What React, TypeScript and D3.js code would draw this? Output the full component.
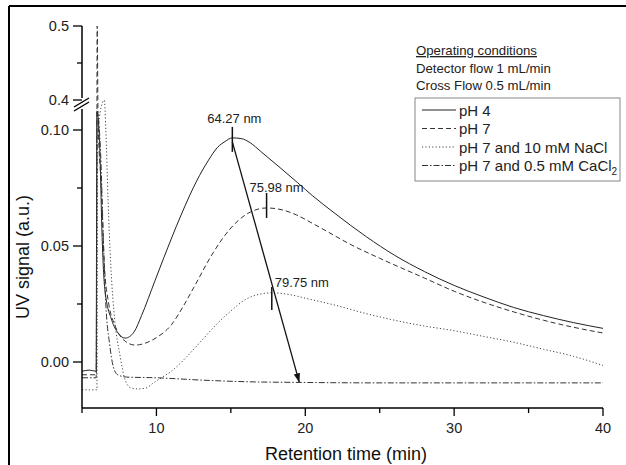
import React from "react";
import * as d3 from "d3";

// ---------- data ----------
const tPH4 = [5, 5.5, 5.95, 6.0, 6.2, 6.34, 6.54, 7.0, 7.42, 7.9, 8.5, 9.0, 9.9, 10.5, 11.6, 12.25, 12.7, 13.5, 14.1, 14.6, 15.1, 15.7, 16.3, 17.0, 18.3, 19.5, 20.5, 22, 24.1, 26, 28, 30, 32, 34, 36, 38, 40];
const vPH4 = [-0.004, -0.0035, -0.004, 0.108, 0.091, 0.056, 0.031, 0.018, 0.0125, 0.0103, 0.013, 0.02, 0.035, 0.045, 0.0625, 0.072, 0.078, 0.087, 0.0925, 0.095, 0.0966, 0.0963, 0.0945, 0.0908, 0.0838, 0.0772, 0.0716, 0.064, 0.054, 0.046, 0.039, 0.033, 0.028, 0.0235, 0.02, 0.017, 0.0145];

const tPH7 = [5, 5.5, 5.97, 6.02, 6.08, 6.3, 6.5, 6.8, 7.2, 7.8, 8.56, 9.2, 10, 11, 11.8, 12.5, 13.8, 14.9, 16, 17.4, 18.5, 19.4, 20.5, 21.6, 23, 25, 28, 30, 32, 34, 36, 38, 40];
const vPH7 = [-0.0055, -0.0055, -0.0055, 0.5, 0.105, 0.075, 0.042, 0.025, 0.016, 0.0095, 0.0073, 0.008, 0.0105, 0.016, 0.024, 0.032, 0.047, 0.057, 0.0635, 0.0664, 0.0655, 0.0634, 0.0597, 0.0558, 0.0508, 0.0447, 0.0362, 0.0305, 0.0257, 0.0216, 0.018, 0.015, 0.0125];

const tNaCl = [5, 5.5, 6.0, 6.06, 6.5, 6.6, 6.75, 6.94, 7.2, 7.55, 7.9, 8.3, 8.8, 9.3, 9.8, 10.4, 11, 12, 13, 14, 15, 16, 17, 17.75, 19, 20, 22, 24, 26, 28, 30, 32, 34, 36, 38, 40];
const vNaCl = [-0.012, -0.012, -0.012, 0.1, 0.39, 0.1, 0.07, 0.041, 0.018, 0.003, -0.0078, -0.0112, -0.0116, -0.0112, -0.009, -0.0065, -0.004, 0.002, 0.009, 0.016, 0.022, 0.027, 0.0293, 0.0298, 0.029, 0.0275, 0.0245, 0.021, 0.018, 0.0155, 0.0135, 0.011, 0.0085, 0.0055, 0.0025, -0.0015];

const tCaCl2 = [5, 5.5, 5.95, 6.02, 6.25, 6.45, 6.6, 6.85, 7.1, 7.4, 8, 10, 13, 16, 19.6, 25, 30, 35, 40];
const vCaCl2 = [-0.0068, -0.0068, -0.0068, 0.108, 0.09, 0.05, 0.025, 0.008, -0.002, -0.0055, -0.0065, -0.0068, -0.0078, -0.0085, -0.0088, -0.009, -0.009, -0.009, -0.009];

const seriesNames = ["pH 4", "pH 7", "pH 7 and 10 mM NaCl", "pH 7 and 0.5 mM CaCl"];
const seriesSub = ["", "", "", "2"];

const xTicks = [10, 20, 30, 40];
const xMinorTicks = [5, 15, 25, 35];
const yLowTicks = [0.0, 0.05, 0.1];
const yLowTickLabels = ["0.00", "0.05", "0.10"];
const yLowMinor = [0.025, 0.075];
const yHighTicks = [0.4, 0.5];
const yHighTickLabels = ["0.4", "0.5"];
const yHighMinor = [0.45];

const peakLabels = ["64.27 nm", "75.98 nm", "79.75 nm"];
const peakTimes = [15.1, 17.4, 17.75];
const peakValues = [0.0966, 0.0664, 0.0297];
const arrowEnd = { t: 19.6, v: -0.0088 };

const conditionLines = ["Operating conditions", "Detector flow 1 mL/min", "Cross Flow 0.5 mL/min"];

// ---------- layout ----------
const W = 626;
const H = 465;
const FONT = "Arial, 'Liberation Sans', sans-serif";
const labelOffsets = [[2, -20], [10, -21], [30, -11]];
const markerExt = [[-11, 14], [-15, 10], [-6, 17]];
const dashes = ["none", "5,3", "1.2,2.2", "6,2,1.5,2"];
const colors = ["#222", "#333", "#444", "#333"];

export default function App() {
  const x = d3.scaleLinear().domain([5, 40]).range([82, 603]);
  const y = d3
    .scaleLinear()
    .domain([-0.02, 0.11, 0.4, 0.5])
    .range([408.4, 106.8, 100, 26]);

  const line = d3
    .line<[number, number]>()
    .x((d) => x(d[0]))
    .y((d) => y(d[1]))
    .curve(d3.curveMonotoneX);

  const series = [
    [tPH4, vPH4],
    [tPH7, vPH7],
    [tNaCl, vNaCl],
    [tCaCl2, vCaCl2],
  ].map(([ts, vs]) => ts.map((t, i) => [t, vs[i]] as [number, number]));

  const axisY0 = 408;
  const axisX0 = 82;

  const legX = 415;
  const legY = 98;
  const legRow = 18.5;

  return (
    <svg
      width={W}
      height={H}
      style={{ position: "absolute", left: 0, top: 0, background: "#fff" }}
      fontFamily={FONT}
    >
      <rect x={0} y={0} width={W} height={H} fill="#fff" />
      {/* frame */}
      <line x1={9} y1={6} x2={W} y2={6} stroke="#000" strokeWidth={2} />
      <line x1={9} y1={6} x2={9} y2={H} stroke="#000" strokeWidth={2} />

      <defs>
        <clipPath id="plotclip">
          <rect x={axisX0} y={20} width={603 - axisX0 + 2} height={axisY0 - 20} />
        </clipPath>
        <marker id="ah" viewBox="0 0 10 10" refX={10} refY={5} markerWidth={7} markerHeight={7} orient="auto">
          <path d="M0,1.5 L10,5 L0,8.5 Z" fill="#111" />
        </marker>
      </defs>

      {/* curves */}
      <g clipPath="url(#plotclip)">
        {series.map((s, i) => (
          <path
            key={i}
            d={line(s) || ""}
            fill="none"
            stroke={colors[i]}
            strokeWidth={1}
            strokeDasharray={dashes[i]}
          />
        ))}
      </g>

      {/* x axis */}
      <line x1={axisX0} y1={axisY0} x2={x(40)} y2={axisY0} stroke="#000" strokeWidth={1.5} />
      {xTicks.map((t) => (
        <g key={"xt" + t}>
          <line x1={x(t)} y1={axisY0} x2={x(t)} y2={axisY0 + 8} stroke="#000" strokeWidth={1.3} />
          <text x={x(t)} y={axisY0 + 25} textAnchor="middle" fontSize={14.5} fill="#222">
            {t}
          </text>
        </g>
      ))}
      {xMinorTicks.map((t) => (
        <line key={"xm" + t} x1={x(t)} y1={axisY0} x2={x(t)} y2={axisY0 + 5} stroke="#000" strokeWidth={1.3} />
      ))}
      <text x={346} y={460} textAnchor="middle" fontSize={18} fill="#111">
        Retention time (min)
      </text>

      {/* y axis lower segment */}
      <line x1={axisX0} y1={axisY0} x2={axisX0} y2={109} stroke="#000" strokeWidth={1.5} />
      {yLowTicks.map((v, i) => (
        <g key={"yl" + v}>
          <line x1={axisX0 - 9} y1={y(v)} x2={axisX0} y2={y(v)} stroke="#000" strokeWidth={1.3} />
          <text x={axisX0 - 13} y={y(v) + 5} textAnchor="end" fontSize={14.5} fill="#222">
            {yLowTickLabels[i]}
          </text>
        </g>
      ))}
      {yLowMinor.map((v) => (
        <line key={"ylm" + v} x1={axisX0 - 5} y1={y(v)} x2={axisX0} y2={y(v)} stroke="#000" strokeWidth={1.3} />
      ))}
      {/* y axis upper segment */}
      <line x1={axisX0} y1={y(0.5)} x2={axisX0} y2={98} stroke="#000" strokeWidth={1.5} />
      {yHighTicks.map((v, i) => (
        <g key={"yh" + v}>
          <line x1={axisX0 - 9} y1={y(v)} x2={axisX0} y2={y(v)} stroke="#000" strokeWidth={1.3} />
          <text x={axisX0 - 13} y={y(v) + 5} textAnchor="end" fontSize={14.5} fill="#222">
            {yHighTickLabels[i]}
          </text>
        </g>
      ))}
      {yHighMinor.map((v) => (
        <line key={"yhm" + v} x1={axisX0 - 5} y1={y(v)} x2={axisX0} y2={y(v)} stroke="#000" strokeWidth={1.3} />
      ))}
      {/* break marks */}
      <line x1={74} y1={107} x2={89} y2={98} stroke="#000" strokeWidth={1.4} />
      <line x1={74} y1={111} x2={89} y2={102} stroke="#000" strokeWidth={1.4} />
      <text
        transform={`translate(29, 257) rotate(-90)`}
        textAnchor="middle"
        fontSize={18}
        fill="#111"
      >
        UV signal (a.u.)
      </text>

      {/* annotations */}
      {peakLabels.map((lab, i) => {
        const px = x(peakTimes[i]);
        const py = y(peakValues[i]);
        return (
          <g key={"pk" + i}>
            <line x1={px} y1={py + markerExt[i][0]} x2={px} y2={py + markerExt[i][1]} stroke="#111" strokeWidth={1.5} />
            <text x={px + labelOffsets[i][0]} y={py + labelOffsets[i][1] + 5} textAnchor="middle" fontSize={13} fill="#222">
              {lab}
            </text>
          </g>
        );
      })}
      <line
        x1={x(peakTimes[0])}
        y1={y(peakValues[0]) + 4}
        x2={x(arrowEnd.t)}
        y2={y(arrowEnd.v)}
        stroke="#111"
        strokeWidth={1.3}
        markerEnd="url(#ah)"
      />

      {/* operating conditions */}
      {conditionLines.map((s, i) => (
        <text
          key={"c" + i}
          x={416}
          y={55 + i * 17.5}
          fontSize={13.2}
          fill="#222"
          style={i === 0 ? { textDecoration: "underline" } : undefined}
        >
          {s}
        </text>
      ))}

      {/* legend */}
      <rect x={legX} y={legY} width={205} height={83} fill="#fff" stroke="#888" strokeWidth={1} />
      {seriesNames.map((name, i) => {
        const cy = legY + 12 + i * legRow;
        return (
          <g key={"lg" + i}>
            <line x1={422} y1={cy} x2={456} y2={cy} stroke={colors[i]} strokeWidth={1} strokeDasharray={dashes[i]} />
            <text x={459} y={cy + 5.5} fontSize={15} fill="#222">
              {name}
              {seriesSub[i] && (
                <tspan fontSize={10} dy={4}>
                  {seriesSub[i]}
                </tspan>
              )}
            </text>
          </g>
        );
      })}
    </svg>
  );
}
